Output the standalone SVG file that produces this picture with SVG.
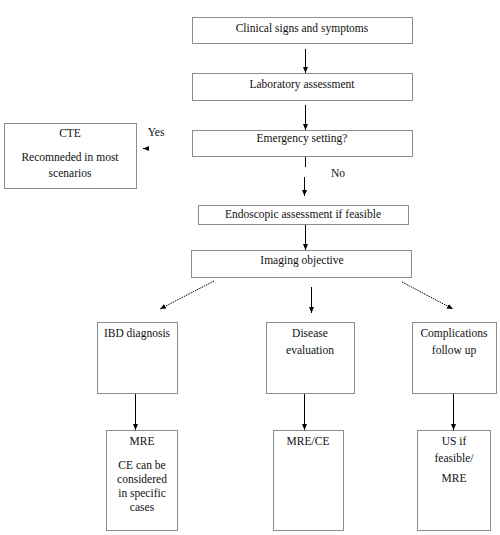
<svg xmlns="http://www.w3.org/2000/svg" width="500" height="535" viewBox="0 0 500 535">
<defs>
<marker id="ah" viewBox="0 0 6 6" refX="6" refY="3" markerWidth="6" markerHeight="6" markerUnits="userSpaceOnUse" orient="auto">
<path d="M0,0.5 L6,3 L0,5.5 Z" fill="#000"/>
</marker>
</defs>
<style>
.box{fill:#fff;stroke:#8c8c8c;stroke-width:1}
.t{font-family:"Liberation Serif","Times New Roman",serif;font-size:11.5px;fill:#111;text-anchor:middle}
.c{stroke:#000;stroke-width:1;fill:none}
.d{stroke:#000;stroke-width:1;fill:none;stroke-dasharray:1.5 1}
</style>
<rect width="500" height="535" fill="#fff"/>
<g id="n1"><rect class="box" x="192.5" y="17.5" width="220" height="26"/><text class="t" x="302" y="32">Clinical signs and symptoms</text></g>
<g id="n2"><rect class="box" x="192.5" y="73.5" width="220" height="27"/><text class="t" x="302" y="88">Laboratory assessment</text></g>
<g id="n3"><rect class="box" x="192.5" y="130.5" width="220" height="26"/><text class="t" x="302" y="142">Emergency setting?</text></g>
<g id="n4"><rect class="box" x="4.5" y="123.5" width="132" height="65"/><text class="t" x="70" y="137">CTE</text><text class="t" x="70" y="161">Recomneded  in most</text><text class="t" x="70" y="177">scenarios</text></g>
<g id="n5"><rect class="box" x="198.5" y="205.5" width="210" height="19"/><text class="t" x="303" y="218">Endoscopic assessment if feasible</text></g>
<g id="n6"><rect class="box" x="191.5" y="250.5" width="220" height="27"/><text class="t" x="302" y="264">Imaging objective</text></g>
<g id="n7"><rect class="box" x="97.5" y="322.5" width="80" height="71"/><text class="t" x="137" y="337">IBD diagnosis</text></g>
<g id="n8"><rect class="box" x="266.5" y="322.5" width="88" height="71"/><text class="t" x="310" y="337">Disease</text><text class="t" x="310" y="354">evaluation</text></g>
<g id="n9"><rect class="box" x="412.5" y="322.5" width="84" height="71"/><text class="t" x="454" y="337">Complications</text><text class="t" x="454" y="354">follow up</text></g>
<g id="n10"><rect class="box" x="106.5" y="430.5" width="71" height="100"/><text class="t" x="142" y="445">MRE</text><text class="t" x="142" y="469">CE can be</text><text class="t" x="142" y="483">considered</text><text class="t" x="142" y="497">in specific</text><text class="t" x="142" y="511">cases</text></g>
<g id="n11"><rect class="box" x="273.5" y="430.5" width="70" height="100"/><text class="t" x="308" y="445">MRE/CE</text></g>
<g id="n12"><rect class="box" x="417.5" y="430.5" width="73" height="100"/><text class="t" x="454" y="445">US if</text><text class="t" x="454" y="462">feasible/</text><text class="t" x="454" y="482">MRE</text></g>
<g id="connectors">
<line class="c" x1="305.5" y1="49" x2="305.5" y2="73" marker-end="url(#ah)"/>
<line class="c" x1="305.5" y1="105" x2="305.5" y2="130" marker-end="url(#ah)"/>
<line class="c" x1="305.5" y1="157" x2="305.5" y2="167"/>
<line class="c" x1="304.5" y1="177" x2="304.5" y2="196" marker-end="url(#ah)"/>
<line class="c" x1="305.5" y1="225" x2="305.5" y2="250" marker-end="url(#ah)"/>
<line class="c" x1="149" y1="148.5" x2="143" y2="148.5" marker-end="url(#ah)"/>
<line class="d" x1="214" y1="281" x2="160" y2="309" marker-end="url(#ah)"/>
<line class="c" x1="311.5" y1="287" x2="311.5" y2="313" marker-end="url(#ah)"/>
<line class="d" x1="402" y1="282" x2="453" y2="309" marker-end="url(#ah)"/>
<line class="c" x1="135.5" y1="394" x2="135.5" y2="430" marker-end="url(#ah)"/>
<line class="c" x1="304.5" y1="394" x2="304.5" y2="430" marker-end="url(#ah)"/>
<line class="c" x1="453.5" y1="394" x2="453.5" y2="430" marker-end="url(#ah)"/>
</g>
<text class="t" x="156" y="136">Yes</text>
<text class="t" x="338" y="177">No</text>
</svg>
